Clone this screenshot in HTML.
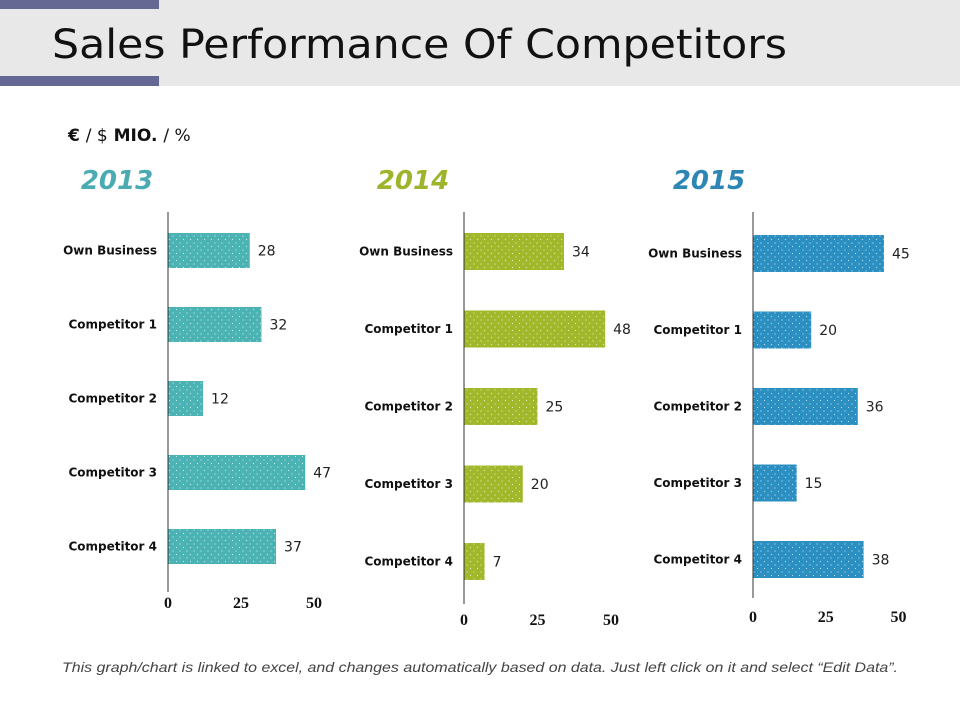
<!DOCTYPE html>
<html><head><meta charset="utf-8"><style>
html,body{margin:0;padding:0;background:#fff;}
svg{display:block;}
</style></head><body>
<svg id="s" width="960" height="720" xmlns="http://www.w3.org/2000/svg">
<defs>
<pattern id="dots" width="7" height="7" patternUnits="userSpaceOnUse"><circle cx="1.5" cy="1.5" r="0.6" fill="#fff" fill-opacity="0.7"/><circle cx="5" cy="5" r="0.6" fill="#fff" fill-opacity="0.7"/></pattern>
</defs>
<rect x="0" y="0" width="960" height="86" fill="#e8e8e8"/>
<rect x="0" y="0" width="159" height="9" fill="#666894"/>
<rect x="0" y="76" width="159" height="10" fill="#666894"/>
<text x="52" y="58" font-family="DejaVu Sans, sans-serif" font-size="40" textLength="735" lengthAdjust="spacingAndGlyphs" fill="#111">Sales Performance Of Competitors</text>
<text x="68" y="141" font-family="DejaVu Sans, sans-serif" font-weight="bold" font-size="17" fill="#111">€ <tspan font-weight="normal">/ $</tspan> MIO. <tspan font-weight="normal">/ %</tspan></text>
<text x="62" y="672" font-family="Liberation Sans, sans-serif" font-style="italic" font-size="14" fill="#444" textLength="836" lengthAdjust="spacingAndGlyphs">This graph/chart is linked to excel, and changes automatically based on data. Just left click on it and select “Edit Data”.</text>
<g id="charts"></g>
</svg>
<script>
const categories = ["Own Business","Competitor 1","Competitor 2","Competitor 3","Competitor 4"];
const years = ["2013","2014","2015"];
const values2013 = [28,32,12,47,37];
const values2014 = [34,48,25,20,7];
const values2015 = [45,20,36,15,38];
const tickLabels = [0,25,50];

const NS="http://www.w3.org/2000/svg";
const root=document.getElementById('charts');
function mk(tag,attrs,parent){const e=document.createElementNS(NS,tag);for(const k in attrs)e.setAttribute(k,attrs[k]);parent.appendChild(e);return e;}
const layouts=[
 {vals:values2013,color:"#4bb3b3",tcol:"#4aabb3",x0:168,top:212,bot:592,bar0:233,step:74,bh:35,tickY:608,yearX:117,unit:2.92},
 {vals:values2014,color:"#a0b82a",tcol:"#9db52c",x0:464,top:212,bot:604,bar0:233,step:77.5,bh:37,tickY:625,yearX:413,unit:2.94},
 {vals:values2015,color:"#2b8fc2",tcol:"#2e86b5",x0:753,top:212,bot:598,bar0:235,step:76.5,bh:37,tickY:622,yearX:709,unit:2.91}
];
layouts.forEach((L,ci)=>{
  const g=mk('g',{},root);
  
  
  const xs=v=>L.x0+v*L.unit;
  const ys=i=>L.bar0+i*L.step;
  const yt=mk('text',{x:L.yearX,y:189,'text-anchor':'middle','font-family':'DejaVu Sans, sans-serif','font-weight':'bold','font-style':'italic','font-size':26,fill:L.tcol},g);
  yt.textContent=years[ci];
  
  
  L.vals.forEach((v,i)=>{
    const y=ys(i);
    const b=mk('rect',{x:L.x0,y:y,width:xs(v)-L.x0,height:L.bh,fill:L.color},g);
    
    
    const p=mk('rect',{x:L.x0,y:y,width:xs(v)-L.x0,height:L.bh,fill:'url(#dots)'},g);
    
    
    const vl=mk('text',{x:xs(v)+8,y:y+L.bh/2+5,'font-family':'DejaVu Sans, sans-serif','font-size':14,fill:'#222'},g);
    vl.textContent=v;
    
    
    const cl=mk('text',{x:L.x0-11,y:y+L.bh/2+4,'text-anchor':'end','font-family':'DejaVu Sans, sans-serif','font-weight':'bold','font-size':12,fill:'#111'},g);
    cl.textContent=categories[i];
    
    
  });
  const ax=mk('line',{x1:L.x0,y1:L.top,x2:L.x0,y2:L.bot,stroke:'#333','stroke-width':1},g);
  
  
  tickLabels.forEach(t=>{
    const tl=mk('text',{x:xs(t),y:L.tickY,'text-anchor':'middle','font-family':'Liberation Serif, serif','font-weight':'bold','font-size':16,fill:'#111'},g);
    tl.textContent=t;
    
    
  });
});
</script>
</body></html>
